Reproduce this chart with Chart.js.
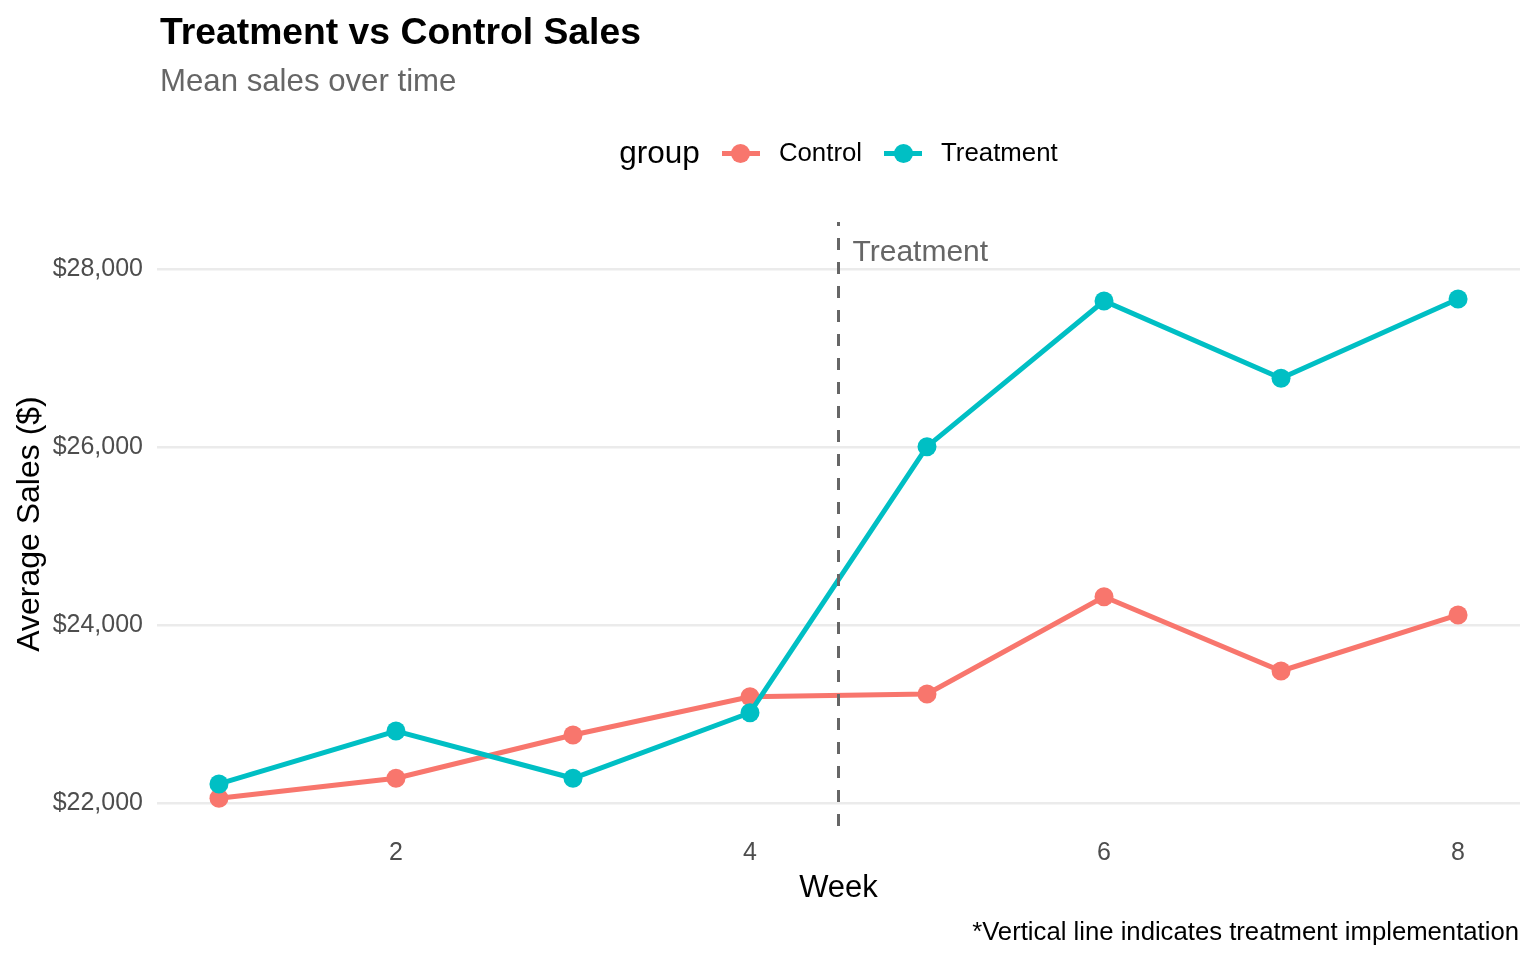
<!DOCTYPE html>
<html>
<head>
<meta charset="utf-8">
<title>Treatment vs Control Sales</title>
<script src="https://cdn.jsdelivr.net/npm/chart.js@4.4.1/dist/chart.umd.min.js"></script>
<style>
  html, body { margin: 0; padding: 0; background: #fff; }
  body { width: 1536px; height: 960px; position: relative; overflow: hidden; font-family: "Liberation Sans", Arial, sans-serif; }
  #chartWrap { position: absolute; left: 0; top: 0; width: 1536px; height: 960px; }
  .txt { position: absolute; white-space: nowrap; }
  #title { left: 160px; top: 12.5px; font-size: 37.3px; line-height: 37.3px; font-weight: bold; color: #000; }
  #subtitle { left: 160px; top: 64.5px; font-size: 31.2px; line-height: 31.2px; color: #666666; }
  #legend { position: absolute; left: 157px; width: 1363px; top: 137px; height: 32px; display: flex; justify-content: center; align-items: center; }
  #legend .ttl { font-size: 31.5px; line-height: 31.5px; color: #000; margin-right: 22px; }
  #legend .key { position: relative; width: 38px; height: 20px; margin-right: 19px; }
  #legend .key .ln { position: absolute; left: 0; top: 7.5px; width: 38px; height: 5px; }
  #legend .key .pt { position: absolute; left: 9.5px; top: 0.5px; width: 19px; height: 19px; border-radius: 50%; }
  #legend .lab { font-size: 25.8px; line-height: 25.8px; color: #000; margin-right: 22px; }
  #legend .lab:last-child { margin-right: 0; }
  #caption { right: 17px; top: 918.5px; font-size: 25.7px; line-height: 25.7px; color: #000; }
</style>
</head>
<body>
<div id="chartWrap"><canvas id="chart" width="1536" height="960"></canvas></div>
<div id="title" class="txt">Treatment vs Control Sales</div>
<div id="subtitle" class="txt">Mean sales over time</div>
<div id="legend"></div>
<div id="caption" class="txt">*Vertical line indicates treatment implementation</div>
<script>
const weeks = [1, 2, 3, 4, 5, 6, 7, 8];
const groupNames = ["Control", "Treatment"];
const groupColors = ["#F8766D", "#00BFC4"];
const controlSales = [22056, 22281, 22767, 23197, 23227, 24320, 23486, 24115];
const treatmentSales = [22217, 22812, 22281, 23017, 26005, 27641, 26773, 27663];

const xTicks = [2, 4, 6, 8];
const yTicks = [22000, 24000, 26000, 28000];
const xRange = [0.65, 8.35];
const yRange = [21745, 28528];

const treatmentWeek = 4.5;
const annotationLabel = "Treatment";
const annotationY = 28180;

const FONT = "'Liberation Sans', Arial, sans-serif";

function toPoints(values) {
    return weeks.map((w, i) => ({ x: w, y: values[i] }));
}

// legend, built from the series names and colours
const legend = document.getElementById("legend");
legend.innerHTML = '<span class="ttl">group</span>';
groupNames.forEach((name, i) => {
    legend.innerHTML +=
        '<span class="key"><span class="ln" style="background:' + groupColors[i] + '"></span>' +
        '<span class="pt" style="background:' + groupColors[i] + '"></span></span>' +
        '<span class="lab">' + name + '</span>';
});

// text next to the vertical line, placed through the scales
const annotationPlugin = {
    id: "treatmentLabel",
    afterDatasetsDraw(chart) {
        const { ctx, scales } = chart;
        const x = scales.x.getPixelForValue(treatmentWeek) + 14;
        const y = scales.y.getPixelForValue(annotationY);
        ctx.save();
        ctx.font = "30px " + FONT;
        ctx.fillStyle = "#666666";
        ctx.textAlign = "left";
        ctx.textBaseline = "middle";
        ctx.fillText(annotationLabel, x, y);
        ctx.restore();
    }
};

const lineStyle = (i) => ({
    borderColor: groupColors[i],
    backgroundColor: groupColors[i],
    pointBackgroundColor: groupColors[i],
    borderWidth: 5,
    pointRadius: 9.5,
    pointBorderWidth: 0,
    tension: 0,
    fill: false
});

new Chart(document.getElementById("chart").getContext("2d"), {
    type: "line",
    data: {
        datasets: [
            {
                label: "treatment line",
                data: [{ x: treatmentWeek, y: yRange[0] }, { x: treatmentWeek, y: yRange[1] }],
                borderColor: "#666666",
                borderWidth: 3,
                borderDash: [12, 12],
                pointRadius: 0,
                order: 0
            },
            Object.assign({ label: groupNames[1], data: toPoints(treatmentSales), order: 1 }, lineStyle(1)),
            Object.assign({ label: groupNames[0], data: toPoints(controlSales), order: 2 }, lineStyle(0))
        ]
    },
    options: {
        responsive: false,
        animation: false,
        events: [],
        layout: { padding: { left: 0, right: 16, top: 222, bottom: 54 } },
        plugins: {
            legend: { display: false },
            tooltip: { enabled: false },
            title: { display: false }
        },
        scales: {
            x: {
                type: "linear",
                min: xRange[0],
                max: xRange[1],
                afterBuildTicks: (scale) => { scale.ticks = xTicks.map(v => ({ value: v })); },
                afterFit: (scale) => { scale.height = 80; },
                grid: { display: false, drawTicks: false },
                border: { display: false },
                ticks: {
                    padding: 12,
                    color: "#4D4D4D",
                    font: { family: FONT, size: 25, lineHeight: 1.2 },
                    maxRotation: 0,
                    autoSkip: false
                },
                title: {
                    display: true,
                    text: "Week",
                    color: "#000",
                    font: { family: FONT, size: 31, lineHeight: 1 },
                    padding: { top: 0, bottom: 2 }
                }
            },
            y: {
                type: "linear",
                min: yRange[0],
                max: yRange[1],
                afterBuildTicks: (scale) => { scale.ticks = yTicks.map(v => ({ value: v })); },
                afterFit: (scale) => { scale.width = 157; },
                grid: { color: "#EBEBEB", lineWidth: 2.5, drawTicks: false },
                border: { display: false },
                ticks: {
                    padding: 14,
                    color: "#4D4D4D",
                    font: { family: FONT, size: 25 },
                    callback: (v) => "$" + Number(v).toLocaleString("en-US")
                },
                title: {
                    display: true,
                    text: "Average Sales ($)",
                    color: "#000",
                    font: { family: FONT, size: 32, lineHeight: 1 },
                    padding: { top: 14, bottom: 0 }
                }
            }
        }
    },
    plugins: [annotationPlugin]
});
</script>
</body>
</html>
